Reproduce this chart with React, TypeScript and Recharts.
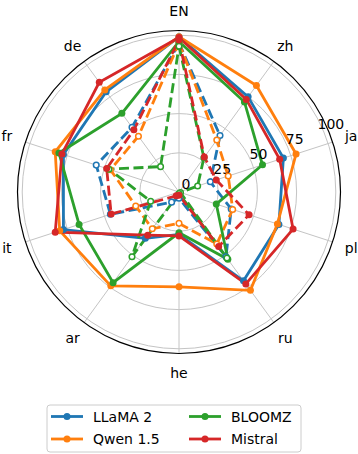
import {
  RadarChart, Radar, PolarGrid, PolarAngleAxis, PolarRadiusAxis, Legend,
} from 'recharts';

const langs = ['EN', 'zh', 'ja', 'pl', 'ru', 'he', 'ar', 'it', 'fr', 'de'];

// solid lines
const llama = [99, 75, 70, 67, 70, 27, 36.5, 77.5, 77.5, 79];
const qwen = [99, 84, 78.5, 66, 77.5, 60.5, 74, 80, 83, 80.5];
const bloomz = [96, 71, 56, 25, 53, 26, 71.5, 67, 80.5, 62];
const mistral = [98.5, 73, 67.5, 76.5, 72.5, 28, 34, 83, 78.5, 86.5];

// dashed lines
const llamaDash = [95, 44.5, 21, 35, 51, 4, 8, 46, 55.5, 51];
const qwenDash = [95, 41, 33, 36, 41, 20, 29, 29, 46, 44];
const bloomzDash = [93, 27, 12.5, 1, 52, 1, 51, 19, 47, 20];
const mistralDash = [97, 27.5, 25, 47, 43, 2, 3, 45.5, 48.5, 49];

const radiusTicks = [0, 25, 50, 75, 100];
const RMAX = 103;

const CX = 179;
const CY = 192;
const R = 161.5;
const FONT = '"DejaVu Sans", sans-serif';

const models = [
  { name: 'LLaMA 2', key: 'llama', color: '#1f77b4' },
  { name: 'Qwen 1.5', key: 'qwen', color: '#ff7f0e' },
  { name: 'BLOOMZ', key: 'bloomz', color: '#2ca02c' },
  { name: 'Mistral', key: 'mistral', color: '#d62728' },
];

const data = langs.map((lang, i) => ({
  lang,
  llama: llama[i],
  qwen: qwen[i],
  bloomz: bloomz[i],
  mistral: mistral[i],
  llamaDash: llamaDash[i],
  qwenDash: qwenDash[i],
  bloomzDash: bloomzDash[i],
  mistralDash: mistralDash[i],
}));

const AngleTick = (props: any) => {
  const a = (props.payload.coordinate * Math.PI) / 180;
  const x = CX + 181 * Math.cos(a);
  const y = CY - 181 * Math.sin(a);
  return (
    <text x={x} y={y} textAnchor="middle" dominantBaseline="central"
      fontSize={14} fontFamily={FONT} fill="#000">
      {props.payload.value}
    </text>
  );
};

const RadiusTick = (props: any) => (
  <text x={props.x + 7} y={props.y - 8} textAnchor="middle" dominantBaseline="central"
    fontSize={14} fontFamily={FONT} fill="#000">
    {props.payload.value}
  </text>
);

const makeDot = (color: string, open: boolean) => (p: any) => (
  <circle
    key={`d-${color}-${p.index}`}
    cx={p.cx}
    cy={p.cy}
    r={open ? 2.8 : 3.5}
    fill={open ? '#fff' : color}
    stroke={color}
    strokeWidth={open ? 1.5 : 0}
  />
);

const LegendBox = () => (
  <svg width={258} height={52}>
    <rect x={1} y={1} width={254} height={47} rx={3} fill="#fff" stroke="#cccccc" />
    {models.map((m, i) => {
      const col = i < 2 ? 0 : 1;
      const row = i % 2;
      const x0 = 5 + col * 138;
      const y0 = 12.5 + row * 22.5;
      return (
        <g key={m.key}>
          <line x1={x0} x2={x0 + 32} y1={y0} y2={y0} stroke={m.color} strokeWidth={2.8} />
          <circle cx={x0 + 16} cy={y0} r={3.5} fill={m.color} />
          <text x={x0 + 42} y={y0} dominantBaseline="central" fontSize={14}
            fontFamily={FONT} fill="#000">{m.name}</text>
        </g>
      );
    })}
  </svg>
);

export default function App() {
  return (
    <div style={{ position: 'absolute', left: 0, top: 0, width: 358, height: 454, background: '#fff' }}>
      <RadarChart
        width={358}
        height={454}
        data={data}
        cx={CX}
        cy={CY}
        outerRadius={R}
        startAngle={90}
        endAngle={-270}
        margin={{ top: 0, right: 0, bottom: 0, left: 0 }}
      >
        <PolarGrid
          gridType="circle"
          stroke="#c4c4c4"
          strokeWidth={1}
          polarRadius={radiusTicks.slice(1).map((t) => (R * t) / RMAX)}
        />
        <PolarAngleAxis
          dataKey="lang"
          tick={AngleTick}
          tickLine={false}
          axisLineType="circle"
          axisLine={{ stroke: '#000', strokeWidth: 1.2 }}
        />
        <PolarRadiusAxis
          angle={22.5}
          domain={[0, RMAX]}
          ticks={radiusTicks}
          type="number"
          axisLine={false}
          tickLine={false}
          tick={RadiusTick}
          allowDataOverflow
        />
        {models.flatMap((m) => [
          <Radar
            key={m.key}
            name={m.name}
            dataKey={m.key}
            stroke={m.color}
            strokeWidth={2.8}
            fill="none"
            fillOpacity={0}
            dot={makeDot(m.color, false)}
            isAnimationActive={false}
          />,
          <Radar
            key={m.key + 'Dash'}
            name={m.name + ' (dashed)'}
            dataKey={m.key + 'Dash'}
            stroke={m.color}
            strokeWidth={2.8}
            strokeDasharray="10 4.5"
            fill="none"
            fillOpacity={0}
            dot={makeDot(m.color, m.key !== 'mistral')}
            isAnimationActive={false}
          />,
        ])}
        <Legend
          content={LegendBox}
          wrapperStyle={{ position: 'absolute', left: 46, top: 404, width: 258, height: 52 }}
        />
      </RadarChart>
    </div>
  );
}
